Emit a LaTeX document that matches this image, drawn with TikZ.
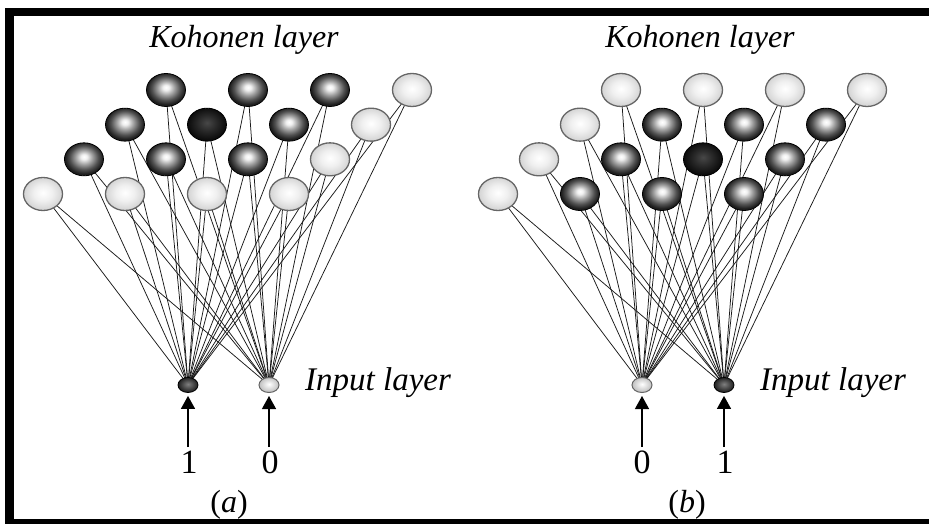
\documentclass[tikz,border=0pt]{standalone}
\usepackage{fontspec}
\setmainfont{Liberation Serif}
\usetikzlibrary{shapes.geometric,arrows.meta,backgrounds}

% ball shadings for the map units
\pgfdeclareradialshading{darkball}{\pgfpoint{0bp}{4bp}}{color(0bp)=(white); color(4bp)=(black!6); color(11bp)=(black!38); color(18bp)=(black!68); color(24bp)=(black!88); color(50bp)=(black!88)}
\pgfdeclareradialshading{liteball}{\pgfpoint{0bp}{2bp}}{color(0bp)=(white); color(12bp)=(black!6); color(25bp)=(black!17); color(50bp)=(black!17)}
\pgfdeclareradialshading{blackball}{\pgfpoint{0bp}{3bp}}{color(0bp)=(black!72); color(12bp)=(black!84); color(25bp)=(black!96); color(50bp)=(black)}
\pgfdeclareradialshading{darkin}{\pgfpoint{0bp}{3bp}}{color(0bp)=(black!50); color(25bp)=(black!88); color(50bp)=(black!88)}
\pgfdeclareradialshading{litein}{\pgfpoint{0bp}{3bp}}{color(0bp)=(white); color(25bp)=(black!25); color(50bp)=(black!25)}

\tikzset{
  unit/.style={shape=ellipse, minimum width=39pt, minimum height=33pt, inner sep=0pt, shade},
  lite/.style={unit, shading=liteball, draw=black!60, line width=1.3pt},
  dark/.style={unit, shading=darkball, draw=black, line width=0.8pt},
  win/.style={unit, shading=blackball, draw=black, line width=0.8pt},
  inunit/.style={shape=ellipse, minimum width=20pt, minimum height=15pt, inner sep=0pt, shade},
  indark/.style={inunit, shading=darkin, draw=black, line width=0.8pt},
  inlite/.style={inunit, shading=litein, draw=black!60, line width=1pt},
  wire/.style={draw=black!90, line width=0.75pt},
  feed/.style={line width=1.3pt, -{Triangle[length=13pt,width=14pt]}, shorten >=3pt},
  title/.style={font=\fontsize{32}{36}\selectfont\itshape, inner sep=0pt},
  inlabel/.style={font=\fontsize{33}{36}\selectfont\itshape, inner sep=0pt, anchor=base west},
  digit/.style={font=\fontsize{34}{36}\selectfont, inner sep=0pt, anchor=base},
  panelcap/.style={font=\fontsize{32}{36}\selectfont, inner sep=0pt, anchor=base}
}

\begin{document}
\begin{tikzpicture}[x=1pt, y=-1pt]
\useasboundingbox (0,0) rectangle (929,524);

% frame
\fill[black] (5,8) rectangle (929,16);
\fill[black] (5,8) rectangle (14,524);
\fill[black] (5,519) rectangle (929,524);

% ---------- panel (a) ----------
\foreach \i/\j/\s in {0/0/lite,1/0/lite,2/0/lite,3/0/lite,
                      0/1/dark,1/1/dark,2/1/dark,3/1/lite,
                      0/2/dark,1/2/win,2/2/dark,3/2/lite,
                      0/3/dark,1/3/dark,2/3/dark,3/3/lite}
  \node[\s] (a-\i-\j) at ({43+82*\i+41*\j},{194-34.67*\j}) {};
\node[indark] (a-in1) at (188,385) {};
\node[inlite] (a-in2) at (269,385) {};

% ---------- panel (b) ----------
\foreach \i/\j/\s in {0/0/lite,1/0/dark,2/0/dark,3/0/dark,
                      0/1/lite,1/1/dark,2/1/win,3/1/dark,
                      0/2/lite,1/2/dark,2/2/dark,3/2/dark,
                      0/3/lite,1/3/lite,2/3/lite,3/3/lite}
  \node[\s] (b-\i-\j) at ({498+82*\i+41*\j},{194-34.67*\j}) {};
\node[inlite] (b-in1) at (642,385) {};
\node[indark] (b-in2) at (724,385) {};

% weights: every input unit feeds every map unit
\begin{pgfonlayer}{background}
  \foreach \p in {a,b}
    \foreach \k in {1,2}
      \foreach \i in {0,...,3}
        \foreach \j in {0,...,3}
          \draw[wire] (\p-in\k.center) -- (\p-\i-\j.center);
\end{pgfonlayer}

% titles
\node[title] (a-title) at (244,40) {Kohonen layer};
\node[title] (b-title) at (700,40) {Kohonen layer};
\node[inlabel] (a-inlabel) at (305,390) {Input layer};
\node[inlabel] (b-inlabel) at (760,390) {Input layer};

% input values and arrows
\coordinate (a-s1) at (188,447);
\coordinate (a-s2) at (269,447);
\coordinate (b-s1) at (642,447);
\coordinate (b-s2) at (724,447);
\draw[feed] (a-s1) -- (a-in1);
\draw[feed] (a-s2) -- (a-in2);
\draw[feed] (b-s1) -- (b-in1);
\draw[feed] (b-s2) -- (b-in2);
\node[digit] (a-v1) at (189,473) {1};
\node[digit] (a-v2) at (270,473) {0};
\node[digit] (b-v1) at (642,473) {0};
\node[digit] (b-v2) at (725,473) {1};

% panel captions
\node[panelcap] (a-cap) at (229,512) {(\textit{a})};
\node[panelcap] (b-cap) at (687,512) {(\textit{b})};
\end{tikzpicture}
\end{document}
